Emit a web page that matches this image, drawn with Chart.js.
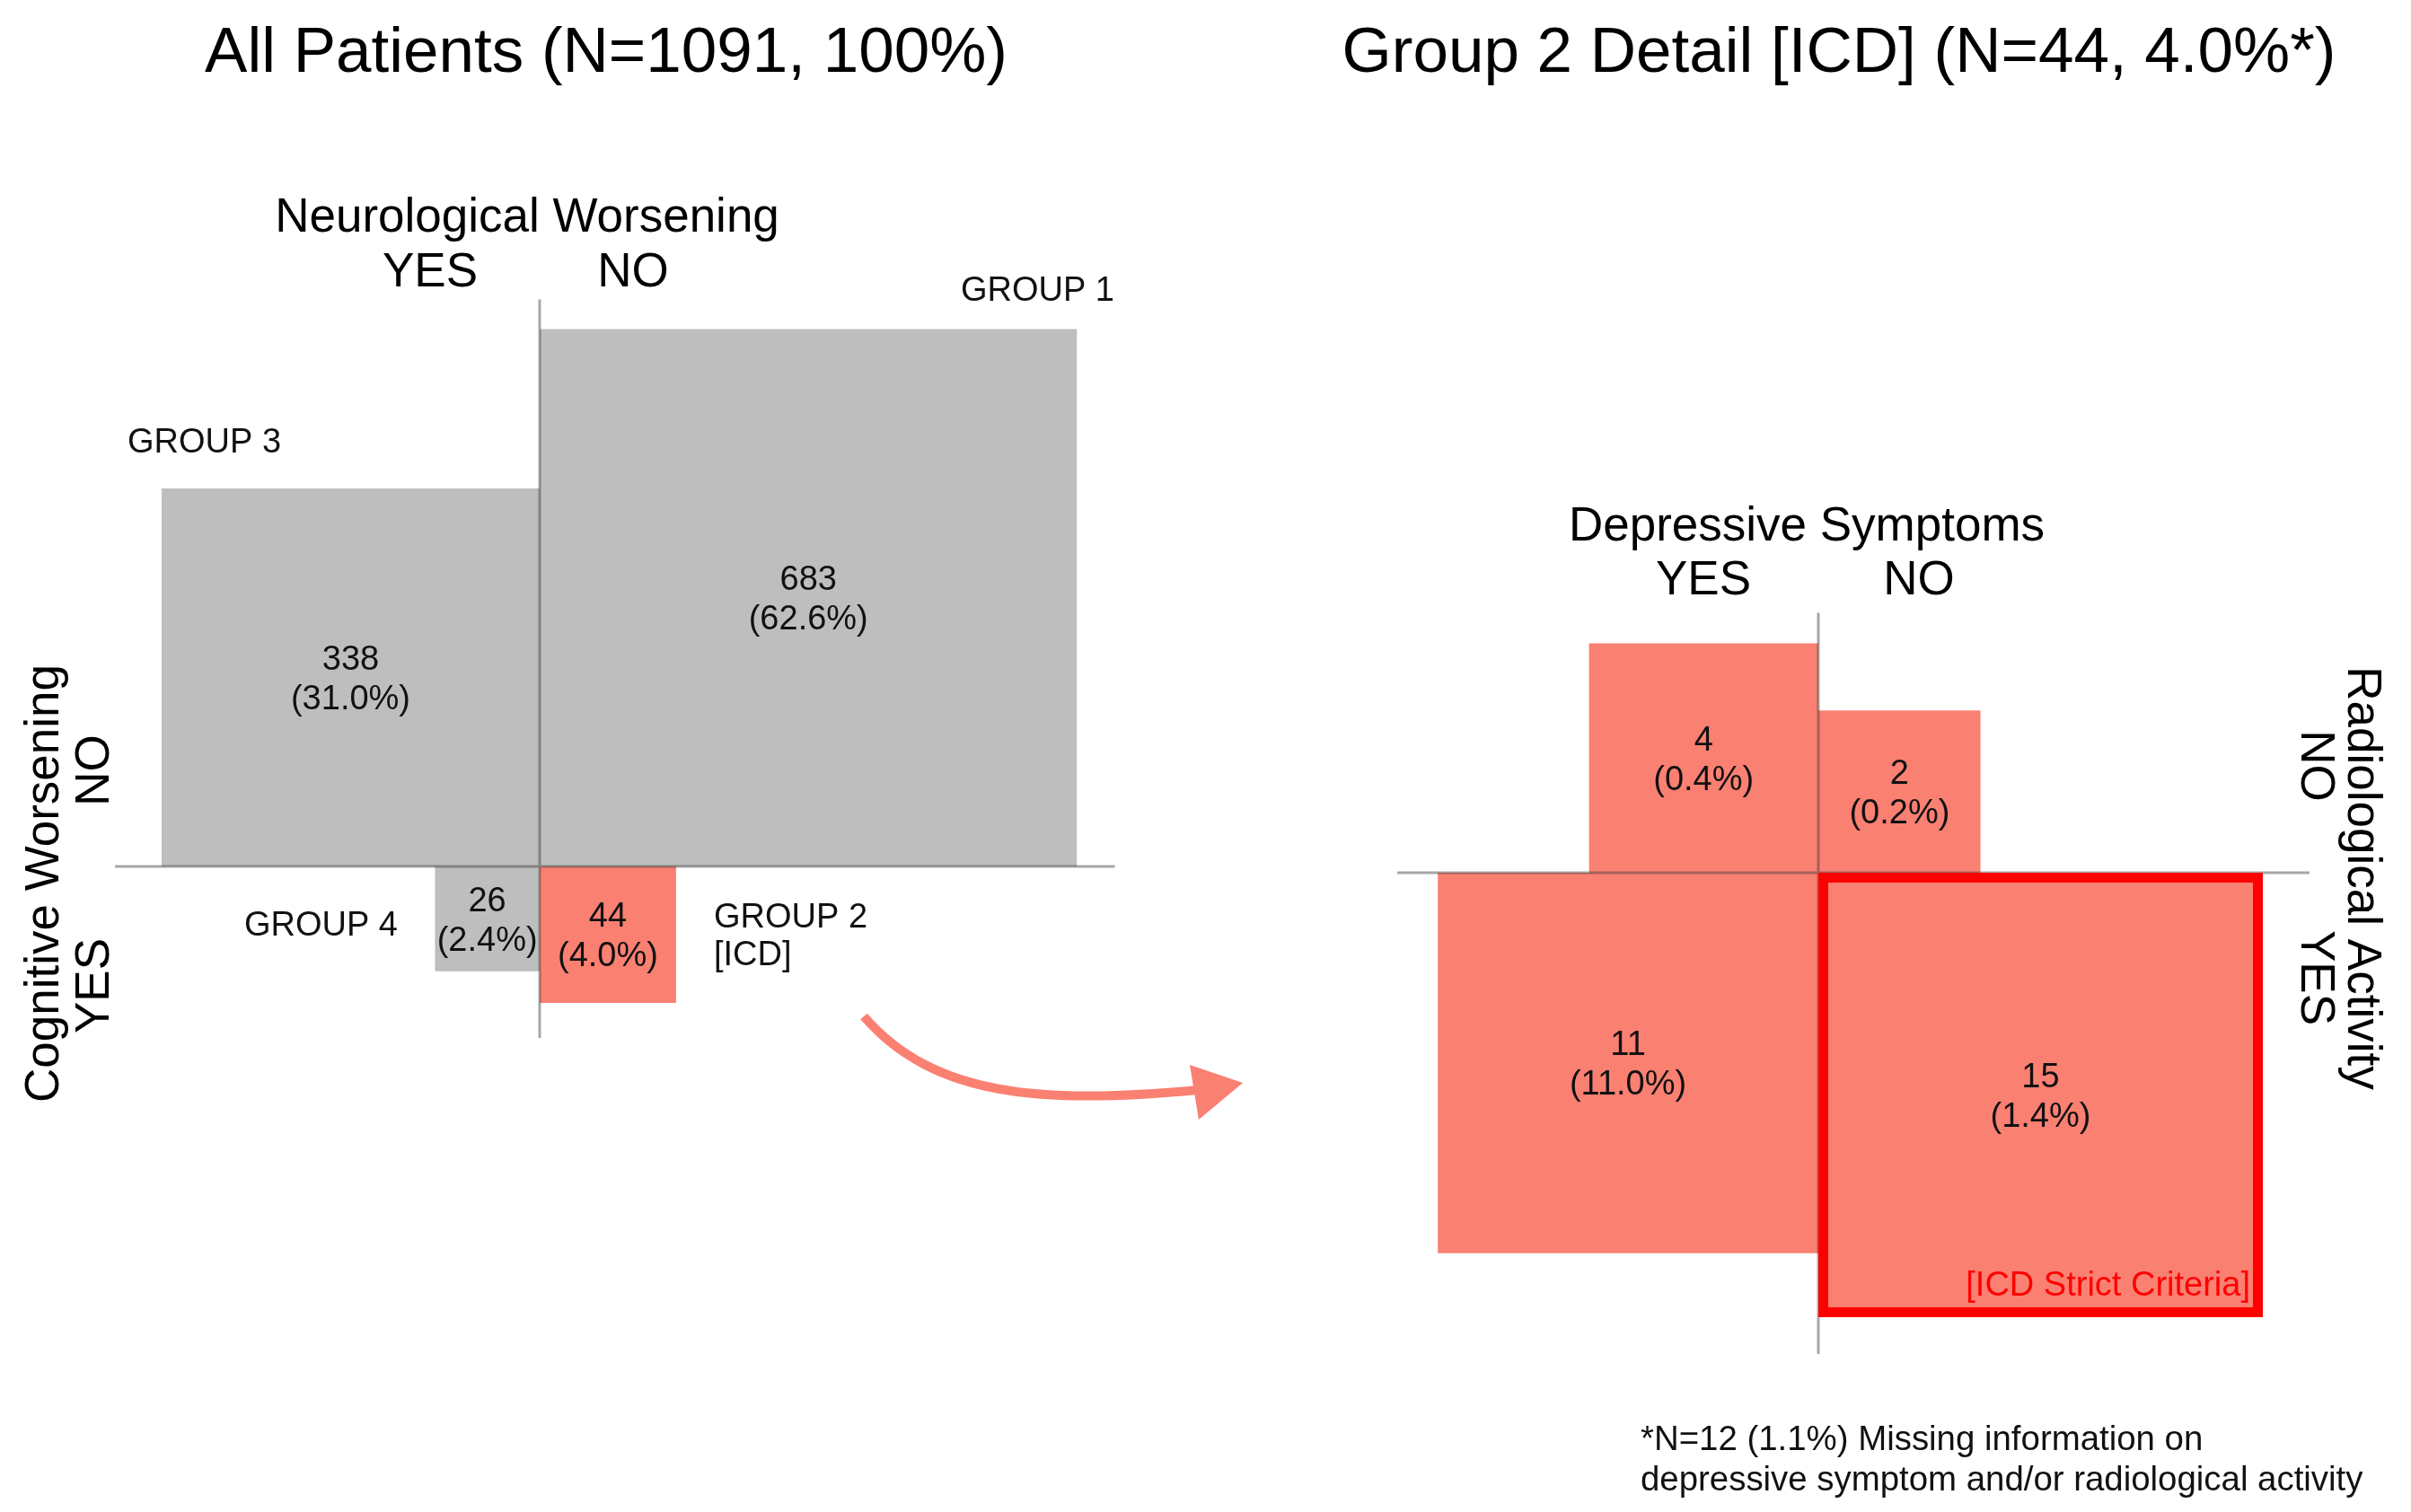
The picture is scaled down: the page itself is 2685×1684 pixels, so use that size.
<!DOCTYPE html>
<html>
<head>
<meta charset="utf-8">
<script src="https://cdn.jsdelivr.net/npm/chart.js@4/dist/chart.umd.min.js"></script>
<style>
html,body{margin:0;padding:0;background:#ffffff;}
#wrap{width:2685px;height:1684px;position:relative;overflow:hidden;}
canvas{display:block;}
</style>
</head>
<body>
<div id="wrap"><canvas id="c" width="2685" height="1684"></canvas></div>
<script>
// ---------- DATA ----------
// Left panel: all patients
const allCategories = ['GROUP 1', 'GROUP 3', 'GROUP 4', 'GROUP 2'];
const allCounts = [683, 338, 26, 44];
const allPercents = [62.6, 31.0, 2.4, 4.0];
const allNeurological = ['NO', 'YES', 'YES', 'NO'];   // x side
const allCognitive = ['NO', 'NO', 'YES', 'YES'];      // y side
const allHighlight = [false, false, false, true];

// Right panel: group 2 detail
const g2Categories = ['Dep YES / Rad NO', 'Dep NO / Rad NO', 'Dep YES / Rad YES', 'Dep NO / Rad YES'];
const g2Counts = [4, 2, 11, 15];
const g2Percents = [0.4, 0.2, 11.0, 1.4];
const g2Depressive = ['YES', 'NO', 'YES', 'NO'];     // x side
const g2Radiological = ['NO', 'NO', 'YES', 'YES'];   // y side
const g2StrictIndex = 3;

const axisLabelsTop = ['YES', 'NO'];

// ---------- LAYOUT / STYLE ----------
const W = 2685, H = 1684;
const FONT = '"Liberation Sans", Arial, Helvetica, sans-serif';
const GRAY = '#bebebe';
const SALMON = '#fa8072';
const LINE = 'rgba(60,60,60,0.45)';
const TY = 3; // baseline correction for text
const PL = {ox: 601, oy: 965, unit: 22.9, pad: {t: 33, b: 39, l: 52, r: 42}};
const PR = {ox: 2025, oy: 972, unit: 127.8, pad: {t: 34, b: 41, l: 45, r: 52}};

function xRange(p) { return {min: -p.ox / p.unit, max: (W - p.ox) / p.unit}; }
function yRange(p) { return {min: -(H - p.oy) / p.unit, max: p.oy / p.unit}; }

function cell(count, xSide, ySide, color, xId, yId, label) {
  const s = Math.sqrt(count);
  const xs = xSide === 'YES' ? -1 : 1;   // YES on the left
  const ys = ySide === 'NO' ? 1 : -1;    // NO on top
  const x0 = xs < 0 ? -s : 0, x1 = xs < 0 ? 0 : s;
  return {
    label: label,
    data: [{x: x0, y: ys * s}, {x: x1, y: ys * s}],
    xAxisID: xId, yAxisID: yId,
    fill: 'origin',
    backgroundColor: color,
    borderWidth: 0,
    pointRadius: 0,
    tension: 0
  };
}

const datasets = [];
allCounts.forEach((c, i) => datasets.push(
  cell(c, allNeurological[i], allCognitive[i], allHighlight[i] ? SALMON : GRAY, 'xL', 'yL', allCategories[i])));
g2Counts.forEach((c, i) => datasets.push(
  cell(c, g2Depressive[i], g2Radiological[i], SALMON, 'xR', 'yR', g2Categories[i])));

function txt(ctx, s, x, y, size, align, color, rot) {
  ctx.save();
  ctx.font = size + 'px ' + FONT;
  ctx.fillStyle = color || '#111';
  ctx.textAlign = align || 'center';
  ctx.textBaseline = 'middle';
  if (rot) { ctx.translate(x + (rot > 0 ? -TY : TY), y); ctx.rotate(rot * Math.PI / 180); }
  else ctx.translate(x, y + TY);
  ctx.fillText(s, 0, 0);
  ctx.restore();
}

function barRect(chart, dsIndex) {
  const ds = chart.data.datasets[dsIndex];
  const xs = chart.scales[ds.xAxisID], ys = chart.scales[ds.yAxisID];
  const p0 = ds.data[0], p1 = ds.data[1];
  const xa = xs.getPixelForValue(p0.x), xb = xs.getPixelForValue(p1.x);
  const ya = ys.getPixelForValue(0), yb = ys.getPixelForValue(p0.y);
  return {l: Math.min(xa, xb), r: Math.max(xa, xb), t: Math.min(ya, yb), b: Math.max(ya, yb)};
}

const overlay = {
  id: 'overlay',
  afterDatasetsDraw(chart) {
    const ctx = chart.ctx;
    // cross lines of each panel
    [[0, allCounts.length, 'xL', 'yL', PL], [allCounts.length, datasets.length, 'xR', 'yR', PR]].forEach(([a, b, xId, yId, p]) => {
      let l = Infinity, r = -Infinity, t = Infinity, bt = -Infinity;
      for (let i = a; i < b; i++) {
        const rc = barRect(chart, i);
        l = Math.min(l, rc.l); r = Math.max(r, rc.r); t = Math.min(t, rc.t); bt = Math.max(bt, rc.b);
      }
      const x0 = chart.scales[xId].getPixelForValue(0), y0 = chart.scales[yId].getPixelForValue(0);
      ctx.save();
      ctx.strokeStyle = LINE; ctx.lineWidth = 3;
      ctx.beginPath();
      ctx.moveTo(x0, t - p.pad.t); ctx.lineTo(x0, bt + p.pad.b);
      ctx.moveTo(l - p.pad.l, y0); ctx.lineTo(r + p.pad.r, y0);
      ctx.stroke();
      ctx.restore();
    });
    // strict criteria border
    const sr = barRect(chart, allCounts.length + g2StrictIndex);
    ctx.save();
    ctx.strokeStyle = '#ff0000'; ctx.lineWidth = 11; ctx.lineJoin = 'miter';
    ctx.strokeRect(sr.l + 5.5, sr.t + 5.5, sr.r - sr.l - 11, sr.b - sr.t - 11);
    ctx.restore();
    txt(ctx, '[ICD Strict Criteria]', sr.r - 14, sr.b - 37, 38, 'right', '#ff0000');

    // value labels at the centre of every cell
    const labelCell = (i, count, pct) => {
      const rc = barRect(chart, i);
      const cx = (rc.l + rc.r) / 2, cy = (rc.t + rc.b) / 2;
      txt(ctx, String(count), cx, cy - 22, 38);
      txt(ctx, '(' + pct.toFixed(1) + '%)', cx, cy + 22, 38);
    };
    allCounts.forEach((c, i) => labelCell(i, c, allPercents[i]));
    g2Counts.forEach((c, i) => labelCell(allCounts.length + i, c, g2Percents[i]));

    // titles
    const total = 1091;
    txt(ctx, 'All Patients (N=' + total + ', 100%)', 675, 57, 71, 'center', '#000');
    txt(ctx, 'Group 2 Detail [ICD] (N=' + allCounts[3] + ', ' + allPercents[3].toFixed(1) + '%*)', 2048, 57, 71, 'center', '#000');

    // axis titles
    txt(ctx, 'Neurological Worsening', 587, 240, 53, 'center', '#000');
    txt(ctx, axisLabelsTop[0], 479, 301, 53, 'center', '#000');
    txt(ctx, axisLabelsTop[1], 705, 301, 53, 'center', '#000');
    txt(ctx, 'Cognitive Worsening', 47, 984, 53, 'center', '#000', -90);
    txt(ctx, 'NO', 103, 858, 53, 'center', '#000', -90);
    txt(ctx, 'YES', 103, 1098, 53, 'center', '#000', -90);

    txt(ctx, 'Depressive Symptoms', 2012, 584, 53, 'center', '#000');
    txt(ctx, axisLabelsTop[0], 1897, 644, 53, 'center', '#000');
    txt(ctx, axisLabelsTop[1], 2137, 644, 53, 'center', '#000');
    txt(ctx, 'Radiological Activity', 2633, 978, 53, 'center', '#000', 90);
    txt(ctx, 'NO', 2581, 853, 53, 'center', '#000', 90);
    txt(ctx, 'YES', 2581, 1089, 53, 'center', '#000', 90);

    // group names
    txt(ctx, allCategories[0], 1241, 322, 38, 'right');
    txt(ctx, allCategories[1], 142, 491, 38, 'left');
    txt(ctx, allCategories[2], 443, 1029, 38, 'right');
    txt(ctx, allCategories[3], 795, 1020, 38, 'left');
    txt(ctx, '[ICD]', 795, 1062, 38, 'left');

    // footnote
    txt(ctx, '*N=12 (1.1%) Missing information on', 1827, 1601, 38.4, 'left');
    txt(ctx, 'depressive symptom and/or radiological activity', 1827, 1646, 38.4, 'left');

    // curved arrow
    ctx.save();
    ctx.strokeStyle = SALMON; ctx.fillStyle = SALMON; ctx.lineWidth = 10; ctx.lineCap = 'butt';
    ctx.beginPath();
    ctx.moveTo(962, 1132);
    ctx.bezierCurveTo(1040, 1222, 1160, 1230, 1335, 1214);
    ctx.stroke();
    ctx.beginPath();
    ctx.moveTo(1325, 1186); ctx.lineTo(1384, 1206); ctx.lineTo(1335, 1247); ctx.closePath();
    ctx.fill();
    ctx.restore();
  }
};

const xl = xRange(PL), yl = yRange(PL), xr = xRange(PR), yr = yRange(PR);

new Chart(document.getElementById('c'), {
  type: 'line',
  data: {datasets: datasets},
  options: {
    responsive: false,
    devicePixelRatio: 1,
    animation: false,
    layout: {padding: 0},
    plugins: {legend: {display: false}, tooltip: {enabled: false}, title: {display: false}},
    scales: {
      xL: {type: 'linear', display: false, min: xl.min, max: xl.max},
      yL: {type: 'linear', display: false, min: yl.min, max: yl.max},
      xR: {type: 'linear', display: false, min: xr.min, max: xr.max},
      yR: {type: 'linear', display: false, min: yr.min, max: yr.max}
    }
  },
  plugins: [overlay]
});
</script>
</body>
</html>
